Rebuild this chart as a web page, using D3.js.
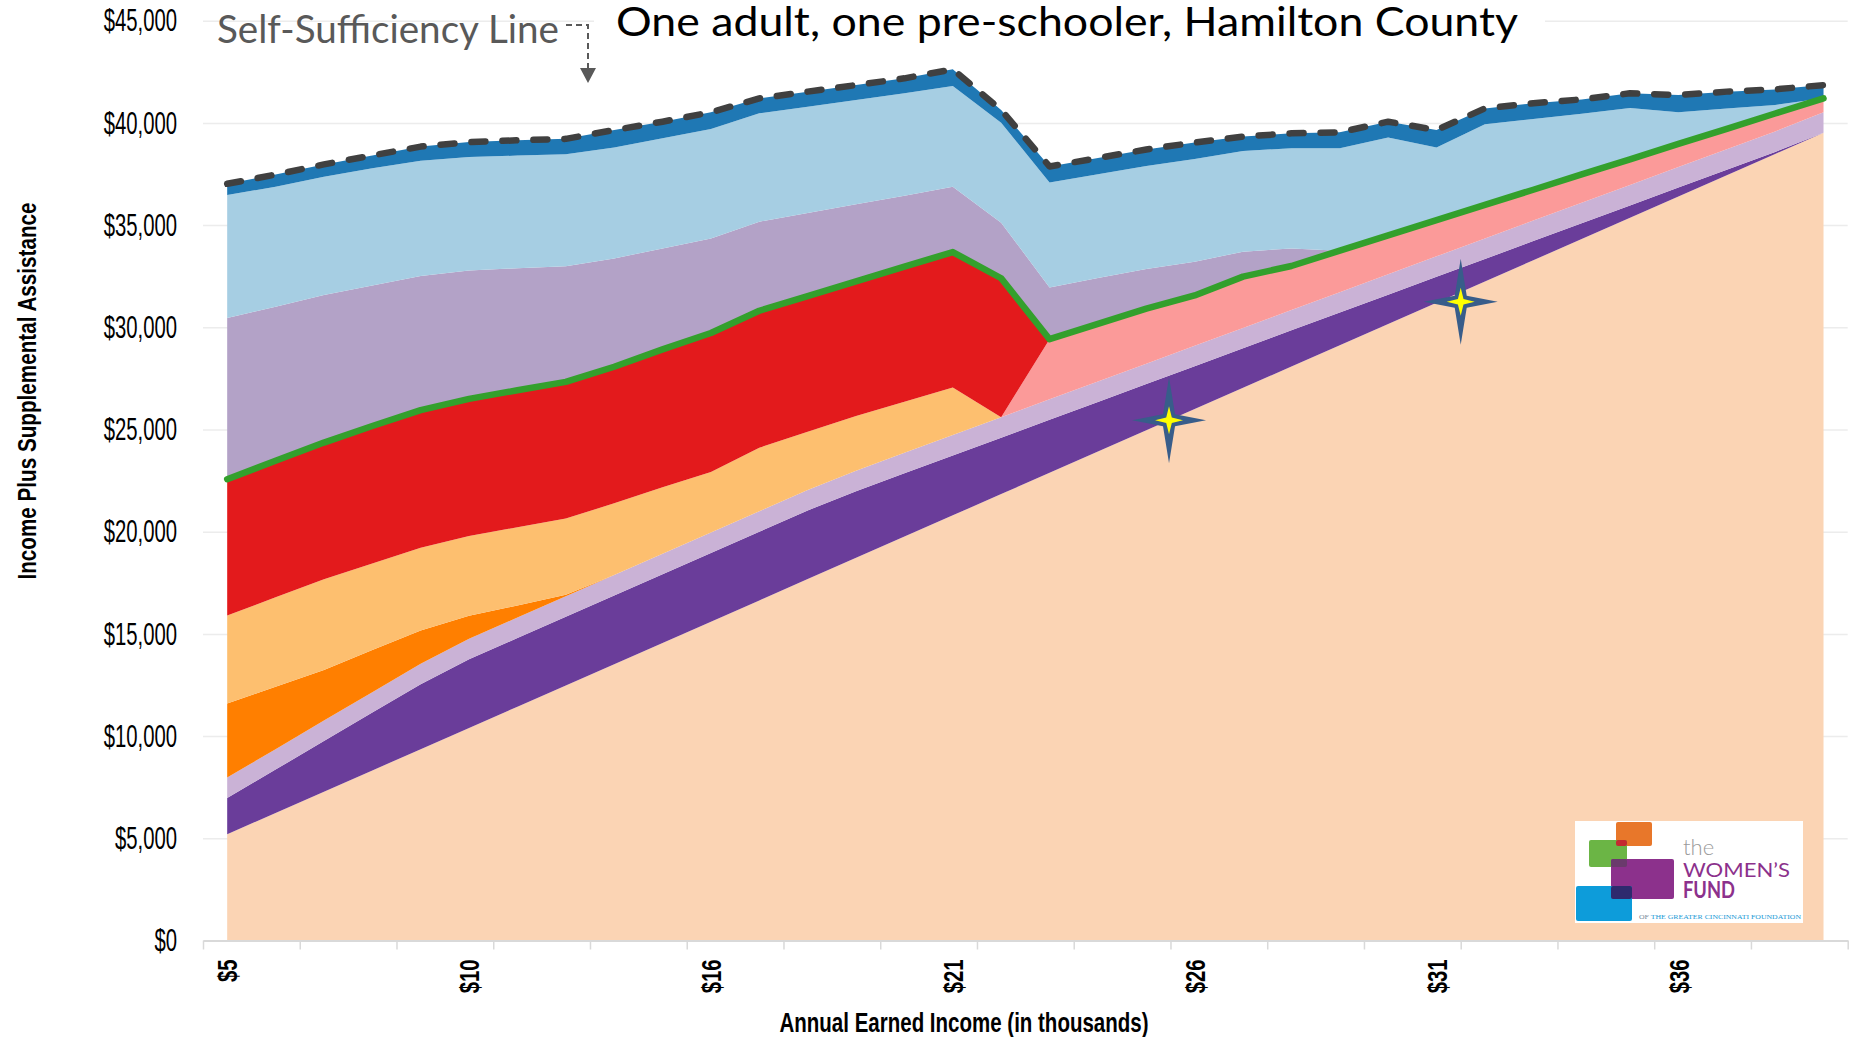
<!DOCTYPE html>
<html>
<head>
<meta charset="utf-8">
<title>One adult, one pre-schooler, Hamilton County</title>
<script src="https://cdn.jsdelivr.net/npm/d3@7/dist/d3.min.js"></script>
<style>
  html, body { margin: 0; padding: 0; background: #ffffff; }
  svg { display: block; }
</style>
</head>
<body>
<svg id="chart" width="1855" height="1037"></svg>
<script>
// Annual earned income at each step (dollars)
const earnedIncome = [5200, 6240, 7280, 8320, 9360, 10400, 11440, 12480, 13520, 14560,
  15600, 16640, 17680, 18720, 19760, 20800, 21840, 22880, 23920, 24960,
  26000, 27040, 28080, 29120, 30160, 31200, 32240, 33280, 34320, 35360,
  36400, 37440, 38480, 39520];

// Supplemental assistance layers, stacked in this order on top of earnings
const eitcValues = [1770, 2120, 2480, 2830, 3180, 3360, 3360, 3360, 3360, 3360,
  3360, 3360, 3360, 3260, 3100, 2930, 2760, 2600, 2430, 2260,
  2100, 1930, 1770, 1600, 1430, 1270, 1100, 940, 770, 600,
  440, 270, 100, 0];
const creditValues = [1000, 1000, 1000, 1000, 1000, 1000, 1000, 1000, 1000, 1000,
  1000, 1000, 1000, 1000, 1000, 1000, 1000, 1000, 1000, 1000,
  1000, 1000, 1000, 1000, 1000, 1000, 1000, 1000, 1000, 1000,
  1000, 1000, 1000, 1000];
const orangeAid = [3630, 3050, 2470, 2060, 1630, 1130, 590, 70, 0, 0,
  0, 0, 0, 0, 0, 0, 0, 0, 0, 0,
  0, 0, 0, 0, 0, 0, 0, 0, 0, 0,
  0, 0, 0, 0];
const lightOrangeAid = [4300, 4380, 4440, 4240, 4050, 3900, 3830, 3730, 3510, 3250,
  2960, 3110, 2850, 2680, 2500, 2320, 0, 0, 0, 0,
  0, 0, 0, 0, 0, 0, 0, 0, 0, 0,
  0, 0, 0, 0];
const pinkAid = [0, 0, 0, 0, 0, 0, 0, 0, 0, 0,
  0, 0, 0, 0, 0, 0, 0, 2940, 2820, 2690,
  2460, 2510, 2150, 2030, 1910, 1770, 1650, 1510, 1390, 1260,
  1130, 1000, 880, 680];
const redAid = [6670, 6680, 6690, 6720, 6730, 6710, 6700, 6690, 6680, 6750,
  6800, 6700, 6640, 6590, 6610, 6630, 6800, 0, 0, 0,
  0, 0, 0, 0, 0, 0, 0, 0, 0, 0,
  0, 0, 0, 0];
const lavenderAid = [7880, 7540, 7220, 6880, 6560, 6280, 5970, 5660, 5300, 4940,
  4630, 4360, 4060, 3770, 3470, 3200, 2720, 2530, 2240, 1940,
  1650, 1220, 860, 0, 0, 0, 0, 0, 0, 0,
  0, 0, 0, 0];
const lightBlueAid = [6020, 5870, 5790, 5730, 5640, 5550, 5510, 5480, 5430, 5390,
  5350, 5300, 5200, 5100, 5010, 4930, 4890, 5130, 5080, 5040,
  5020, 4930, 4900, 5010, 4780, 3560, 3940, 3460, 2970, 2510,
  1550, 990, 420, 0];
const darkBlueAid = [550, 590, 600, 630, 690, 730, 750, 750, 850, 810,
  820, 730, 740, 730, 730, 810, 620, 790, 790, 810,
  810, 700, 730, 780, 780, 850, 780, 770, 700, 720,
  840, 830, 760, 650];

// Self-sufficiency standard for the family
const selfSufficiency = 41280;

// Axis ticks
const xTickIndex = [0, 5, 10, 15, 20, 25, 30];
const xTickLabels = ["$5", "$10", "$16", "$21", "$26", "$31", "$36"];
const yTickValues = [0, 5000, 10000, 15000, 20000, 25000, 30000, 35000, 40000, 45000];

// Wage markers (position along the income steps, dollar height)
const starMarks = [
  { step: 19.47, value: 25450 },
  { step: 25.5, value: 31250 }
];

const layers = [
  { key: "earnings",   values: earnedIncome,   color: "#FBD4B4" },
  { key: "eitc",       values: eitcValues,     color: "#6A3D9A" },
  { key: "credit",     values: creditValues,   color: "#CAB2D6" },
  { key: "aidOrange",  values: orangeAid,      color: "#FF7F00" },
  { key: "aidLtOrange",values: lightOrangeAid, color: "#FDBF6F" },
  { key: "aidPink",    values: pinkAid,        color: "#FB9A99" },
  { key: "aidRed",     values: redAid,         color: "#E31A1C" },
  { key: "aidLavender",values: lavenderAid,    color: "#B3A2C7" },
  { key: "aidLtBlue",  values: lightBlueAid,   color: "#A6CEE3" },
  { key: "aidBlue",    values: darkBlueAid,    color: "#1F78B4" }
];

const n = earnedIncome.length;
const rows = d3.range(n).map(i => {
  const r = {};
  layers.forEach(l => { r[l.key] = l.values[i]; });
  return r;
});
const stacked = d3.stack().keys(layers.map(l => l.key))(rows);

const plotLeft = 203, plotRight = 1847.7, plotTop = 20.7, plotBottom = 940.5;
const x = d3.scaleLinear().domain([-0.5, n - 0.5]).range([plotLeft, plotRight]);
const y = d3.scaleLinear().domain([0, 45000]).range([plotBottom, plotTop]);

const svg = d3.select("#chart");
const defs = svg.append("defs");
const shadow = defs.append("filter").attr("id", "lineShadow")
  .attr("x", "-5%").attr("y", "-200%").attr("width", "110%").attr("height", "500%");
shadow.append("feDropShadow").attr("dx", 0).attr("dy", 4).attr("stdDeviation", 2.6)
  .attr("flood-color", "#000").attr("flood-opacity", 0.45);

// Horizontal gridlines
svg.append("g")
  .attr("transform", `translate(${plotLeft},0)`)
  .call(d3.axisLeft(y).tickValues(yTickValues.filter(v => v > 0))
    .tickSize(-(plotRight - plotLeft)).tickFormat(""))
  .call(g => g.select(".domain").remove())
  .call(g => g.selectAll("line").attr("stroke", "#ececec").attr("stroke-width", 1.5));

// White box behind the chart title
svg.append("rect").attr("x", 594).attr("y", 0).attr("width", 951).attr("height", 52)
  .attr("fill", "#ffffff");

// Stacked areas
const area = d3.area()
  .x((d, i) => x(i))
  .y0(d => y(d[0]))
  .y1(d => y(d[1]));

svg.append("g").selectAll("path")
  .data(stacked)
  .join("path")
  .attr("fill", (d, i) => layers[i].color)
  .attr("d", area);

// Y axis labels
const yAxis = svg.append("g")
  .attr("transform", "translate(177,0)")
  .call(d3.axisLeft(y).tickValues(yTickValues).tickSize(0).tickPadding(0)
    .tickFormat(d3.format("$,")))
  .call(g => g.select(".domain").remove());
yAxis.selectAll("text")
  .attr("font-family", "'Liberation Sans', Arial, sans-serif")
  .attr("font-size", 31)
  .attr("fill", "#000")
  .attr("dy", "0.33em")
  .attr("transform", d => `translate(0,${y(d)}) scale(0.655,1) translate(0,${-y(d)})`);

// X axis line and category tick marks
const boundaryTicks = d3.range(-0.5, n, 2);
svg.append("g")
  .attr("transform", `translate(0,${plotBottom})`)
  .call(d3.axisBottom(x).tickValues(boundaryTicks).tickSize(9).tickSizeOuter(0).tickFormat(""))
  .call(g => g.select(".domain").attr("stroke", "#d9d9d9").attr("stroke-width", 2))
  .call(g => g.selectAll(".tick line").attr("stroke", "#d9d9d9").attr("stroke-width", 1.5));

// X axis labels (rotated)
const xLabScale = 0.75;
const xLab = svg.append("g")
  .attr("transform", `translate(0,${plotBottom})`)
  .call(d3.axisBottom(x).tickValues(xTickIndex).tickSize(0)
    .tickFormat((d, i) => xTickLabels[i]))
  .call(g => g.select(".domain").remove());
xLab.selectAll("text")
  .attr("font-family", "'Liberation Sans', Arial, sans-serif")
  .attr("font-weight", "bold")
  .attr("font-size", 27)
  .attr("fill", "#000")
  .attr("text-anchor", "end")
  .attr("y", 0)
  .attr("x", -19 / xLabScale)
  .attr("dy", "0.36em")
  .attr("transform", `rotate(-90) scale(${xLabScale},1)`);

// Green line along the top of the child-care layers
const redIdx = layers.findIndex(l => l.key === "aidRed");
const line = d3.line().x((d, i) => x(i)).y(d => y(d));
svg.append("path")
  .datum(stacked[redIdx].map(d => d[1]))
  .attr("fill", "none")
  .attr("stroke", "#33A02C")
  .attr("stroke-width", 6.5)
  .attr("stroke-linejoin", "round")
  .attr("stroke-linecap", "round")
  .attr("d", line);

// Dashed total line
svg.append("path")
  .datum(stacked[stacked.length - 1].map(d => d[1]))
  .attr("fill", "none")
  .attr("stroke", "#404040")
  .attr("stroke-width", 6.5)
  .attr("stroke-dasharray", "14,17")
  .attr("stroke-linecap", "round")
  .attr("stroke-linejoin", "round")
  .attr("d", line);

// Self-sufficiency line
const ssLine = d3.line().x((d, i) => x(i) + (i === 0 ? 4 : 0)).y(d => y(d));
svg.append("path")
  .datum(d3.range(n).map(() => selfSufficiency))
  .attr("fill", "none")
  .attr("stroke", "#948A54")
  .attr("stroke-width", 8)
  .attr("filter", "url(#lineShadow)")
  .attr("d", ssLine);

// Star markers
function starPath(rx, ry, a) {
  return `M0,${-ry} L${a},${-a} L${rx},0 L${a},${a} L0,${ry} L${-a},${a} L${-rx},0 L${-a},${-a} Z`;
}
const stars = svg.append("g").selectAll("g")
  .data(starMarks)
  .join("g")
  .attr("transform", d => `translate(${x(d.step)},${y(d.value)})`);
stars.append("path").attr("d", starPath(37, 43, 6)).attr("fill", "#385D8A");
stars.append("path").attr("d", starPath(14, 14, 2.8)).attr("fill", "#FFFF00");

// Titles
svg.append("text")
  .attr("x", 616).attr("y", 36)
  .attr("font-family", "Lato, 'Open Sans', sans-serif")
  .attr("font-size", 41)
  .attr("fill", "#000")
  .attr("textLength", 902)
  .attr("lengthAdjust", "spacingAndGlyphs")
  .text("One adult, one pre-schooler, Hamilton County");

svg.append("text")
  .attr("x", 217).attr("y", 43)
  .attr("font-family", "Lato, 'Open Sans', sans-serif")
  .attr("font-size", 38)
  .attr("fill", "#595959")
  .attr("textLength", 342)
  .attr("lengthAdjust", "spacingAndGlyphs")
  .text("Self-Sufficiency Line");

// Pointer from the label down to the line
svg.append("path")
  .attr("d", "M566,25 L588,25 L588,69")
  .attr("fill", "none")
  .attr("stroke", "#595959")
  .attr("stroke-width", 2)
  .attr("stroke-dasharray", "6,4");
svg.append("path")
  .attr("d", "M580,68 L596,68 L588,83 Z")
  .attr("fill", "#595959");

svg.append("text")
  .attr("transform", "translate(35.5,391) rotate(-90)")
  .attr("text-anchor", "middle")
  .attr("font-family", "'Liberation Sans', Arial, sans-serif")
  .attr("font-weight", "bold")
  .attr("font-size", 25)
  .attr("fill", "#000")
  .attr("textLength", 377)
  .attr("lengthAdjust", "spacingAndGlyphs")
  .text("Income Plus Supplemental Assistance");

svg.append("text")
  .attr("x", 964).attr("y", 1032)
  .attr("text-anchor", "middle")
  .attr("font-family", "'Liberation Sans', Arial, sans-serif")
  .attr("font-weight", "bold")
  .attr("font-size", 27)
  .attr("fill", "#000")
  .attr("textLength", 369)
  .attr("lengthAdjust", "spacingAndGlyphs")
  .text("Annual Earned Income (in thousands)");

// Logo
const logo = svg.append("g").attr("transform", "translate(1575,821)");
logo.append("rect").attr("width", 228).attr("height", 102).attr("fill", "#ffffff");
const blocks = [
  [41, 1, 36, 24, "#E8772A"],
  [14, 19, 38, 27, "#6BB545"],
  [36, 38, 63, 40, "#8C318C"],
  [1, 65, 56, 35, "#0D9CDA"],
  [41, 19, 11, 6, "#C42A30"],
  [36, 38, 16, 8, "#6A3A6C"],
  [36, 65, 21, 13, "#2E2A6E"]
];
logo.selectAll("rect.block").data(blocks).join("rect")
  .attr("class", "block")
  .attr("x", d => d[0]).attr("y", d => d[1])
  .attr("width", d => d[2]).attr("height", d => d[3])
  .attr("rx", 2)
  .attr("fill", d => d[4]);
logo.append("text").attr("x", 108).attr("y", 34)
  .attr("font-family", "Lato, sans-serif").attr("font-weight", 300)
  .attr("font-size", 22).attr("fill", "#9a9a9a").text("the");
logo.append("text").attr("x", 108).attr("y", 56)
  .attr("font-family", "Lato, sans-serif").attr("font-size", 20)
  .attr("fill", "#8C318C").attr("textLength", 107).attr("lengthAdjust", "spacingAndGlyphs")
  .text("WOMEN\u2019S");
logo.append("text").attr("x", 108).attr("y", 77)
  .attr("font-family", "Lato, sans-serif").attr("font-weight", "bold").attr("font-size", 22)
  .attr("fill", "#8C318C").attr("textLength", 52).attr("lengthAdjust", "spacingAndGlyphs")
  .text("FUND");
const tag = logo.append("text").attr("x", 64).attr("y", 98)
  .attr("font-family", "'Liberation Serif', serif").attr("font-size", 6.5)
  .attr("textLength", 162).attr("lengthAdjust", "spacingAndGlyphs");
tag.append("tspan").attr("fill", "#7a8a99").text("OF ");
tag.append("tspan").attr("fill", "#1A9AD6").text("THE GREATER CINCINNATI FOUNDATION");
</script>
</body>
</html>
